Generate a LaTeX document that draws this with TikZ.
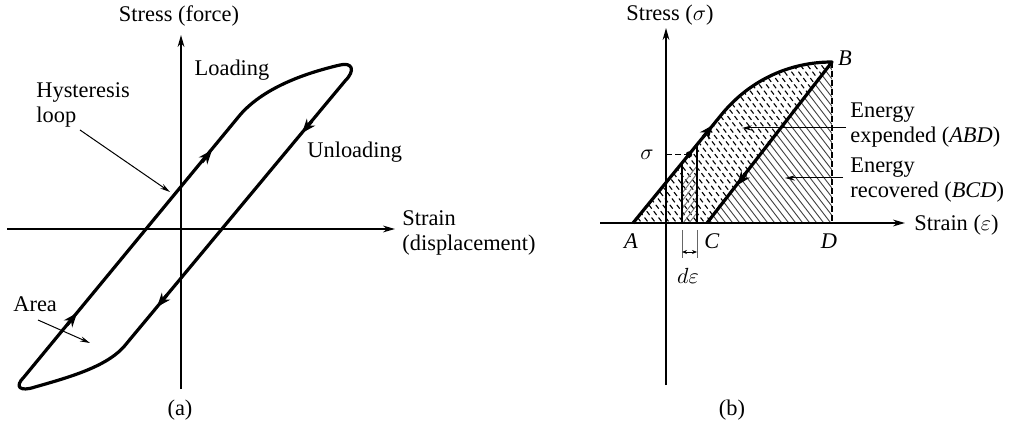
\documentclass[tikz,border=0pt]{standalone}
\usepackage{fontspec}
\setmainfont{Liberation Serif}
\usetikzlibrary{arrows.meta}

\begin{document}
\begin{tikzpicture}[
            x=0.5pt, y=-0.5pt,
            every node/.style={font=\fontsize{11.2}{12.5}\selectfont, inner sep=1pt},
            axis/.style={line width=0.8pt, -{Stealth[length=6pt, width=3.4pt]}},
            loopline/.style={line width=1.6pt, line join=round},
            pointer/.style={line width=0.5pt, -{Stealth[length=5pt, width=2.6pt]}},
            flowtip/.style={line width=1.6pt, -{Stealth[length=7pt, width=5.4pt, inset=2.2pt]}},
            hatchdash/.style={line width=0.55pt, dash pattern=on 2.4pt off 1.6pt},
            hatchline/.style={line width=0.45pt, black!75},
            guide/.style={line width=0.6pt, dash pattern=on 3pt off 1.5pt}
        ]
            \useasboundingbox (0,0) rectangle (1016,432);

            % (a) axes
            \coordinate (axl) at (7,229);
            \coordinate (axr) at (395,229);
            \coordinate (ayb) at (181,389);
            \coordinate (ayt) at (181,35);
            \draw[axis] (axl) -- (axr);
            \draw[axis] (ayb) -- (ayt);

            % (a) hysteresis loop
            \draw[loopline] (24,377) -- (240,115) .. controls (265,86) and (310,72) .. (340,65)
                .. controls (352,62) and (356,70) .. (345,81) -- (127,343)
                .. controls (110,366) and (70,377) .. (35,387)
                .. controls (20,392) and (14,387) .. (24,377) -- cycle;
            \draw[flowtip] (202,162.1) -- (212,150);
            \draw[flowtip] (67,325.1) -- (77,313);
            \draw[flowtip] (312,121) -- (302,133);
            \draw[flowtip] (167,295) -- (157,307);

            % (a) labels
            \node (stressa) at (179,16) {Stress (force)};
            \node[anchor=west, align=left] (straina) at (400,233) {Strain\\(displacement)};
            \node (loadl) at (232,70) {Loading};
            \node[anchor=west] (unloadl) at (305,152) {Unloading};
            \node[anchor=west, align=left] (hystl) at (34,105) {Hysteresis\\loop};
            \node[anchor=west] (areal) at (11,304) {Area};
            \node (capa) at (180,410) {(a)};

            % (a) pointers
            \coordinate (hyst0) at (80,130);
            \coordinate (hyst1) at (170,192);
            \coordinate (area0) at (38,320);
            \coordinate (area1) at (90,343);
            \draw[pointer] (hyst0) -- (hyst1);
            \draw[pointer] (area0) -- (area1);

            % (b) points
            \coordinate (A) at (633,223);
            \coordinate (B) at (832,62);
            \coordinate (C) at (707,223);
            \coordinate (D) at (832,223);
            \coordinate (K) at (722,114);

            % (b) hatching
            \begin{scope}
                \clip (A) -- (K) .. controls (750,80) and (790,62) .. (B) -- (C) -- cycle;
                \foreach \s in {0,7,...,420}
                    \draw[hatchdash] (480+\s,40) -- ++(150,195);
            \end{scope}
            \begin{scope}
                \clip (B) -- (C) -- (D) -- cycle;
                \foreach \s in {0,7,...,420}
                    \draw[hatchline] (480+\s,40) -- ++(150,195);
            \end{scope}
            \begin{scope}
                \clip (682,223) -- (682,163) -- (697,145) -- (697,223) -- cycle;
                \foreach \s in {0,6,...,84}
                    \draw[hatchline, black!55] (640+\s,240) -- ++(80,-104);
            \end{scope}

            % (b) axes
            \coordinate (bxl) at (600,223);
            \coordinate (bxr) at (905,223);
            \coordinate (byb) at (666,385);
            \coordinate (byt) at (666,28);
            \draw[axis] (bxl) -- (bxr);
            \draw[axis] (byb) -- (byt);

            % (b) curves
            \draw[loopline] (A) -- (K) .. controls (750,80) and (790,62) .. (B) -- (C);
            \draw[guide] (B) -- (D);
            \draw[line width=0.9pt] (682,223) -- (682,163);
            \draw[line width=0.9pt] (697,223) -- (697,145);
            \draw[flowtip] (703,137.2) -- (713,125);
            \draw[flowtip] (746,173.8) -- (737,185.4);
            \coordinate (sdot) at (689,154.5);
            \coordinate (saxis) at (666,154.5);
            \draw[guide] (saxis) -- (sdot);
            \fill (sdot) circle[radius=1.6pt];

            % (b) strip width
            \draw[line width=0.4pt, black!60] (682,230) -- (682,258);
            \draw[line width=0.4pt, black!60] (697,230) -- (697,258);
            \draw[line width=0.4pt, {Stealth[length=2.5pt, width=2pt]}-{Stealth[length=2.5pt, width=2pt]}] (682,252) -- (697,252);

            % (b) labels
            \node (stressb) at (670,15) {Stress ($\sigma$)};
            \node[anchor=west] (strainb) at (912,225) {Strain ($\varepsilon$)};
            \node (la) at (631,241) {\textit{A}};
            \node (lb) at (845,58) {\textit{B}};
            \node (lc) at (712,241) {\textit{C}};
            \node (ld) at (829,241) {\textit{D}};
            \node (lsig) at (647,155) {$\sigma$};
            \node (ldeps) at (688,276) {$d\varepsilon$};
            \node[anchor=west, align=left] (expl) at (848,125) {Energy\\expended (\textit{ABD})};
            \node[anchor=west, align=left] (recl) at (848,180.5) {Energy\\recovered (\textit{BCD})};
            \node (capb) at (732,410) {(b)};

            % (b) pointers
            \coordinate (exp0) at (846,128);
            \coordinate (exp1) at (742,128);
            \coordinate (rec0) at (843,178);
            \coordinate (rec1) at (785,178);
            \draw[pointer] (exp0) -- (exp1);
            \draw[pointer] (rec0) -- (rec1);

        \end{tikzpicture}
\end{document}
